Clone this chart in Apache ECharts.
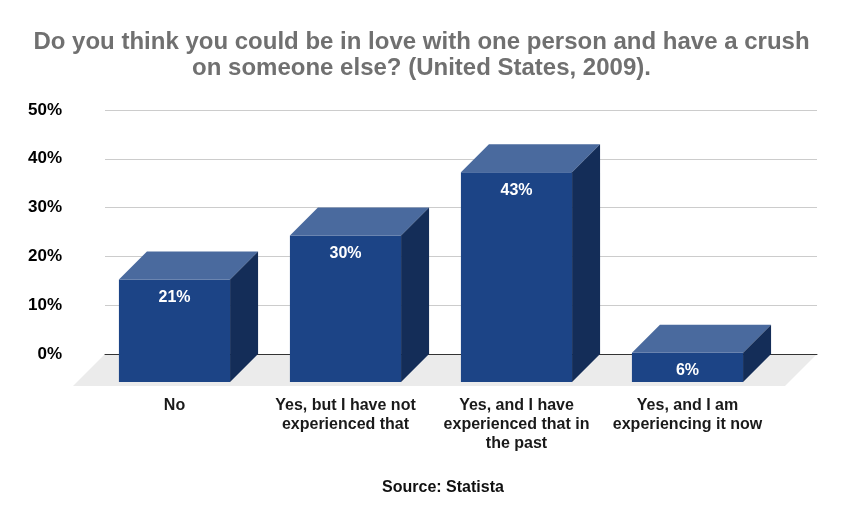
<!DOCTYPE html>
<html lang="en">
<head>
    <meta charset="UTF-8">
    <title>Love and crush survey</title>
    <script src="https://cdn.jsdelivr.net/npm/echarts@6/dist/echarts.min.js"></script>
    <style>
        * { margin: 0; padding: 0; box-sizing: border-box; }
        body { background: #ffffff; }
        #chart { width: 843px; height: 522px; }
    </style>
</head>
<body>
    <div id="chart"></div>
    <script type="text/javascript">
        // chart data
        const titleText = 'Do you think you could be in love with one person and have a crush\non someone else? (United States, 2009).';
        const categories = [
            'No',
            'Yes, but I have not\nexperienced that',
            'Yes, and I have\nexperienced that in\nthe past',
            'Yes, and I am\nexperiencing it now'
        ];
        const shares = [21, 30, 43, 6];
        const yTicks = [0, 10, 20, 30, 40, 50];
        const sourceText = 'Source: Statista';

        // 3d look
        const DEPTH = 28;       // bar depth in px
        const FLOOR_DEPTH = 32;
        const FRONT = '#1c4486';
        const TOP = '#4a6a9e';
        const SIDE = '#142d58';
        const FONT = '"Liberation Sans", Arial, sans-serif';

        const chart = echarts.init(document.getElementById('chart'), null, { renderer: 'canvas' });

        function renderBar(params, api) {
            const idx = api.value(0);
            const v = api.value(1);
            const base = api.coord([idx, 0]);
            const topPt = api.coord([idx, v]);
            const w = api.size([1, 0])[0] * 0.65;
            const x0 = base[0] - w / 2, x1 = base[0] + w / 2;
            const yb = base[1], yt = topPt[1];
            return {
                type: 'group',
                children: [
                    {
                        type: 'rect',
                        shape: { x: x0, y: yt, width: w, height: yb - yt },
                        style: { fill: FRONT }
                    },
                    {
                        type: 'polygon',
                        shape: { points: [[x0, yt], [x1, yt], [x1 + DEPTH, yt - DEPTH], [x0 + DEPTH, yt - DEPTH]] },
                        style: { fill: TOP }
                    },
                    {
                        type: 'polygon',
                        shape: { points: [[x1, yt], [x1 + DEPTH, yt - DEPTH], [x1 + DEPTH, yb - DEPTH], [x1, yb]] },
                        style: { fill: SIDE }
                    },
                    {
                        type: 'text',
                        style: {
                            x: base[0], y: yt + 18,
                            text: v + '%',
                            fill: '#ffffff',
                            font: 'bold 16px ' + FONT,
                            align: 'center',
                            verticalAlign: 'middle'
                        }
                    }
                ]
            };
        }

        function renderFloor(params, api) {
            const cs = params.coordSys;
            const y0 = api.coord([0, 0])[1];
            const xl = cs.x, xr = cs.x + cs.width;
            return {
                type: 'polygon',
                shape: {
                    points: [[xl, y0], [xr, y0], [xr - FLOOR_DEPTH, y0 + FLOOR_DEPTH], [xl - FLOOR_DEPTH, y0 + FLOOR_DEPTH]]
                },
                style: { fill: '#ebebeb' }
            };
        }

        const option = {
            backgroundColor: '#ffffff',
            animation: false,
            title: {
                text: titleText,
                left: 'center',
                top: 24,
                textStyle: {
                    fontFamily: FONT,
                    fontSize: 24,
                    fontWeight: 'bold',
                    color: '#707070',
                    lineHeight: 26
                }
            },
            graphic: [{
                type: 'text',
                x: 443,
                y: 488,
                style: {
                    text: sourceText,
                    font: 'bold 16px ' + FONT,
                    fill: '#111111',
                    align: 'center',
                    verticalAlign: 'middle'
                }
            }],
            grid: [
                // back plane: gridlines and value labels
                { left: 105, right: 26, top: 110, bottom: 168 },
                // front plane: bars and category labels
                { left: 89, right: 70, top: 138, bottom: 140 }
            ],
            xAxis: [
                {
                    gridIndex: 0,
                    type: 'category',
                    data: categories,
                    z: 2,
                    axisLine: { show: true, lineStyle: { color: '#333333', width: 1 } },
                    axisTick: { show: false },
                    axisLabel: { show: false }
                },
                {
                    gridIndex: 1,
                    type: 'category',
                    data: categories,
                    axisLine: { show: false },
                    axisTick: { show: false },
                    axisLabel: {
                        margin: 14,
                        interval: 0,
                        fontFamily: FONT,
                        fontSize: 16,
                        fontWeight: 'bold',
                        lineHeight: 19,
                        color: '#1a1a1a'
                    }
                }
            ],
            yAxis: [
                {
                    gridIndex: 0,
                    type: 'value',
                    min: yTicks[0],
                    max: yTicks[yTicks.length - 1],
                    interval: 10,
                    axisLine: { show: false },
                    axisTick: { show: false },
                    splitLine: { lineStyle: { color: '#cccccc', width: 1 } },
                    axisLabel: {
                        margin: 43,
                        formatter: '{value}%',
                        fontFamily: FONT,
                        fontSize: 17,
                        fontWeight: 'bold',
                        color: '#000000'
                    }
                },
                {
                    gridIndex: 1,
                    type: 'value',
                    min: yTicks[0],
                    max: yTicks[yTicks.length - 1],
                    interval: 10,
                    show: false,
                    splitLine: { show: false }
                }
            ],
            series: [
                {
                    type: 'custom',
                    name: 'floor',
                    xAxisIndex: 0,
                    yAxisIndex: 0,
                    z: 1,
                    renderItem: renderFloor,
                    data: [[0, 0]],
                    silent: true
                },
                {
                    type: 'custom',
                    name: 'Share of respondents',
                    xAxisIndex: 1,
                    yAxisIndex: 1,
                    z: 3,
                    renderItem: renderBar,
                    data: shares.map((v, i) => [i, v])
                }
            ]
        };

        chart.setOption(option);
    </script>
</body>
</html>
